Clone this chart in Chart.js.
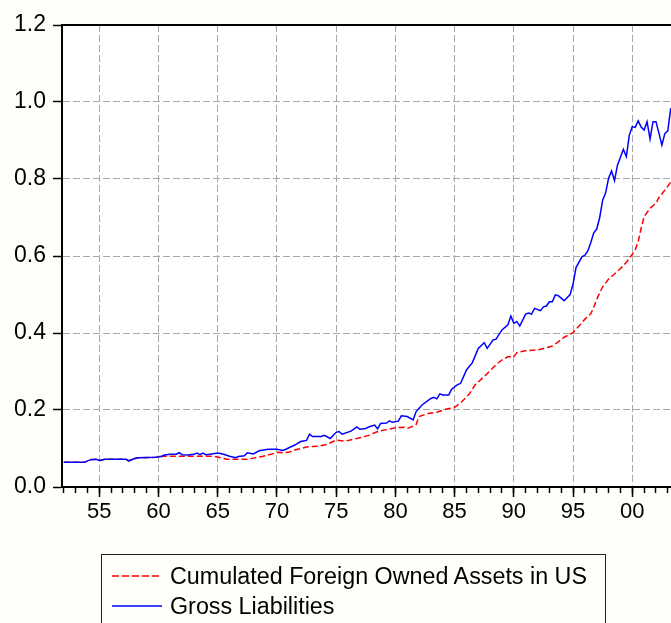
<!DOCTYPE html>
<html>
<head>
<meta charset="utf-8">
<script src="https://cdn.jsdelivr.net/npm/chart.js@4.4.1/dist/chart.umd.min.js"></script>
<style>
  html, body { margin: 0; padding: 0; background: #fffffa; }
  #wrap { position: relative; width: 671px; height: 623px; overflow: hidden; }
  #legend { position: absolute; left: 101px; top: 554px; width: 503px; height: 90px;
            border: 1px solid #222; font-family: "Liberation Sans", Arial, sans-serif; font-size: 23.3px; color: #000; }
  #legend .row { position: absolute; left: 10px; height: 28px; display: flex; align-items: center; }
  #legend svg { margin-right: 8px; }
</style>
</head>
<body>
<div id="wrap">
  <canvas id="myChart" width="671" height="623"></canvas>
  <div id="legend"></div>
</div>
<script>
// quarterly readings, Gross Liabilities
var liabYears = [1952.0, 1953.75, 1954.25, 1954.75, 1955.0, 1955.5, 1957.25, 1957.5, 1958.0, 1958.25,
  1959.75, 1960.0, 1960.25, 1960.5, 1961.0, 1961.5, 1961.75, 1962.0, 1962.5, 1963.0,
  1963.25, 1963.5, 1963.75, 1964.0, 1964.5, 1965.0, 1965.5, 1966.0, 1966.5, 1966.75,
  1967.25, 1967.5, 1968.0, 1968.5, 1969.25, 1970.0, 1970.5, 1970.75, 1971.5, 1972.0,
  1972.5, 1972.75, 1973.0, 1973.75, 1974.0, 1974.5, 1975.0, 1975.25, 1975.5, 1976.25,
  1976.75, 1977.0, 1977.5, 1977.75, 1978.25, 1978.5, 1978.75, 1979.25, 1979.5, 1979.75,
  1980.25, 1980.5, 1981.0, 1981.5, 1981.75, 1982.25, 1983.0, 1983.25, 1983.5, 1983.75,
  1984.0, 1984.5, 1984.75, 1985.25, 1985.5, 1986.0, 1986.5, 1987.0, 1987.5, 1987.75,
  1988.25, 1988.5, 1989.0, 1989.5, 1989.75, 1990.0, 1990.25, 1990.5, 1991.0, 1991.25,
  1991.5, 1991.75, 1992.25, 1992.5, 1992.75, 1993.0, 1993.25, 1993.5, 1993.75, 1994.25,
  1994.75, 1995.0, 1995.25, 1995.75, 1996.0, 1996.25, 1996.5, 1996.75, 1997.0, 1997.25,
  1997.5, 1997.75, 1998.0, 1998.25, 1998.5, 1998.75, 1999.25, 1999.5, 1999.75, 2000.0,
  2000.25, 2000.5, 2000.75, 2001.0, 2001.25, 2001.5, 2001.75, 2002.0, 2002.25, 2002.5,
  2002.75, 2003.0, 2003.25];
var liabValues = [0.064, 0.064, 0.071, 0.072, 0.069, 0.072, 0.072, 0.068, 0.074, 0.076,
  0.077, 0.078, 0.080, 0.083, 0.085, 0.085, 0.089, 0.084, 0.083, 0.085,
  0.088, 0.084, 0.088, 0.084, 0.086, 0.088, 0.085, 0.080, 0.076, 0.079,
  0.081, 0.089, 0.086, 0.094, 0.098, 0.098, 0.095, 0.098, 0.109, 0.118,
  0.121, 0.137, 0.131, 0.131, 0.134, 0.126, 0.142, 0.144, 0.137, 0.145,
  0.156, 0.150, 0.152, 0.156, 0.161, 0.151, 0.165, 0.166, 0.172, 0.168,
  0.171, 0.185, 0.183, 0.174, 0.196, 0.213, 0.230, 0.233, 0.229, 0.242,
  0.239, 0.239, 0.254, 0.266, 0.269, 0.304, 0.323, 0.360, 0.375, 0.360,
  0.382, 0.384, 0.408, 0.421, 0.444, 0.425, 0.430, 0.418, 0.449, 0.452,
  0.449, 0.464, 0.458, 0.468, 0.470, 0.481, 0.481, 0.499, 0.497, 0.484,
  0.500, 0.527, 0.570, 0.598, 0.602, 0.613, 0.635, 0.660, 0.670, 0.700,
  0.745, 0.764, 0.802, 0.821, 0.796, 0.836, 0.877, 0.858, 0.914, 0.936,
  0.934, 0.951, 0.935, 0.927, 0.949, 0.904, 0.949, 0.949, 0.919, 0.888,
  0.918, 0.925, 0.984];

// Cumulated Foreign Owned Assets in US
var assetYears = [1952.0, 1953.75, 1954.25, 1954.75, 1955.0, 1955.5, 1957.25, 1957.5, 1958.0, 1958.25,
  1959.75, 1960.0, 1960.5, 1964.5, 1965.0, 1965.75, 1967.5, 1968.0, 1968.75, 1969.5,
  1970.0, 1970.5, 1971.0, 1971.5, 1972.0, 1972.5, 1973.5, 1974.25, 1975.0, 1975.75,
  1976.75, 1977.75, 1978.5, 1979.25, 1980.0, 1980.75, 1981.0, 1981.5, 1981.75, 1982.0,
  1982.75, 1983.5, 1984.25, 1985.0, 1985.5, 1986.25, 1986.75, 1987.5, 1988.0, 1988.5,
  1989.0, 1989.5, 1990.0, 1990.25, 1991.0, 1992.0, 1992.5, 1993.25, 1993.75, 1994.25,
  1995.0, 1995.5, 1996.0, 1996.5, 1996.75, 1997.0, 1997.5, 1998.0, 1998.75, 1999.25,
  1999.75, 2000.25, 2000.5, 2000.75, 2001.0, 2001.5, 2002.0, 2002.25, 2002.75, 2003.25];
var assetValues = [0.064, 0.064, 0.071, 0.072, 0.069, 0.072, 0.072, 0.068, 0.074, 0.076,
  0.077, 0.078, 0.080, 0.080, 0.078, 0.072, 0.072, 0.075, 0.079, 0.085,
  0.090, 0.089, 0.090, 0.096, 0.100, 0.104, 0.106, 0.111, 0.122, 0.119,
  0.126, 0.134, 0.144, 0.149, 0.154, 0.155, 0.152, 0.158, 0.162, 0.183,
  0.191, 0.194, 0.202, 0.207, 0.218, 0.242, 0.266, 0.287, 0.302, 0.318,
  0.330, 0.338, 0.338, 0.349, 0.354, 0.356, 0.360, 0.366, 0.377, 0.389,
  0.401, 0.418, 0.436, 0.450, 0.467, 0.488, 0.520, 0.540, 0.560, 0.575,
  0.593, 0.616, 0.637, 0.672, 0.702, 0.724, 0.737, 0.752, 0.771, 0.792];

var yTicks = [0, 0.2, 0.4, 0.6, 0.8, 1.0, 1.2];
var majorYears = [1955, 1960, 1965, 1970, 1975, 1980, 1985, 1990, 1995, 2000];
var majorLabels = ['55', '60', '65', '70', '75', '80', '85', '90', '95', '00'];
var minorYears = [];
for (var yr = 1952; yr <= 2003; yr++) minorYears.push(yr);

var FONT = '"Liberation Sans", Arial, sans-serif';
var GRID = '#a8a8a8';

function toPoints(xs, ys) {
  return xs.map(function(x, i) { return {x: x, y: ys[i]}; });
}

var framePlugin = {
  id: 'frame',
  beforeDraw: function(chart) {
    var a = chart.chartArea, c = chart.ctx;
    c.save();
    c.fillStyle = '#ffffff';
    c.fillRect(a.left, a.top, a.right - a.left, a.bottom - a.top);
    c.restore();
  },
  afterDraw: function(chart) {
    var a = chart.chartArea, c = chart.ctx;
    c.save();
    c.strokeStyle = '#000';
    c.lineWidth = 2;
    c.beginPath();
    c.moveTo(a.left - 1, a.top);
    c.lineTo(a.right, a.top);
    c.stroke();
    c.restore();
  }
};

var ctx = document.getElementById('myChart');
var myChart = new Chart(ctx, {
  type: 'line',
  data: {
    datasets: [{
      label: 'Cumulated Foreign Owned Assets in US',
      data: toPoints(assetYears, assetValues),
      borderColor: '#ff0000',
      borderWidth: 1.5,
      borderDash: [6, 3],
      pointRadius: 0,
      fill: false,
      order: 2
    }, {
      label: 'Gross Liabilities',
      data: toPoints(liabYears, liabValues),
      borderColor: '#0000ff',
      borderWidth: 1.5,
      pointRadius: 0,
      fill: false,
      order: 1
    }]
  },
  options: {
    responsive: false,
    animation: false,
    layout: { padding: { left: 7, top: 25, right: 0, bottom: 95.6 } },
    plugins: { legend: { display: false }, tooltip: { enabled: false } },
    scales: {
      x: {
        type: 'linear',
        min: 1951.85,
        max: 2003.27,
        afterBuildTicks: function(s) { s.ticks = majorYears.map(function(v) { return {value: v}; }); },
        ticks: {
          autoSkip: false, maxRotation: 0, padding: 2, color: '#000',
          font: { family: FONT, size: 22 },
          callback: function(v, i) { return majorLabels[i]; }
        },
        grid: { color: GRID, lineWidth: 1, tickColor: '#000', tickLength: 10, tickWidth: 1.5 },
        border: { color: '#000', width: 2, dash: [7, 3] }
      },
      x2: {
        type: 'linear',
        axis: 'x',
        position: { y: 0 },
        min: 1951.85,
        max: 2003.27,
        afterBuildTicks: function(s) { s.ticks = minorYears.map(function(v) { return {value: v}; }); },
        ticks: { display: false },
        grid: { drawOnChartArea: false, tickColor: '#000', tickLength: 6, tickWidth: 1.5 },
        border: { display: false }
      },
      y: {
        type: 'linear',
        min: 0,
        max: 1.2,
        afterBuildTicks: function(s) { s.ticks = yTicks.map(function(v) { return {value: v}; }); },
        ticks: {
          padding: 7, color: '#000',
          font: { family: FONT, size: 23 },
          callback: function(v) { return v.toFixed(1); }
        },
        grid: {
          color: function(c) {
            if (c.tick && (c.tick.value === 0 || c.tick.value === 1.2)) return 'rgba(0,0,0,0)';
            return GRID;
          },
          lineWidth: 1, tickColor: '#000', tickLength: 9, tickWidth: 1.5
        },
        border: { color: '#000', width: 2, dash: [7, 3] }
      }
    }
  },
  plugins: [framePlugin]
});

// html legend from the datasets
var legend = document.getElementById('legend');
myChart.data.datasets.forEach(function(ds, i) {
  var row = document.createElement('div');
  row.className = 'row';
  row.style.top = (7 + i * 30) + 'px';
  var dash = ds.borderDash ? '7,3' : 'none';
  row.innerHTML = '<svg width="50" height="4"><line x1="0" y1="2" x2="50" y2="2" stroke="' + ds.borderColor +
    '" stroke-width="1.4" stroke-dasharray="' + dash + '"/></svg><span>' + ds.label + '</span>';
  legend.appendChild(row);
});
</script>
</body>
</html>
